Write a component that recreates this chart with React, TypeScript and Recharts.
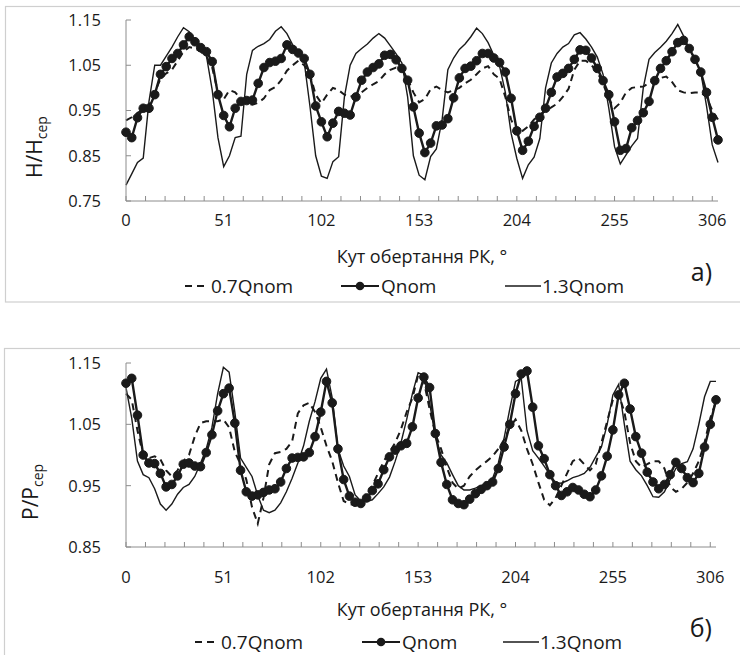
import React from 'react';
import { LineChart, Line, XAxis, YAxis } from 'recharts';

const FONT = '"Open Sans", "Noto Sans", sans-serif';
const INK = '#1a1a1a';
const AXIS = '#8c8c8c';

// rotation angle of the impeller, degrees
const angles = [
  0, 3, 6, 9, 12, 15, 18, 21, 24, 27, 30, 33, 36,
  39, 42, 45, 48, 51, 54, 57, 60, 63, 66, 69, 72, 75,
  78, 81, 84, 87, 90, 93, 96, 99, 102, 105, 108, 111, 114,
  117, 120, 123, 126, 129, 132, 135, 138, 141, 144, 147, 150, 153,
  156, 159, 162, 165, 168, 171, 174, 177, 180, 183, 186, 189, 192,
  195, 198, 201, 204, 207, 210, 213, 216, 219, 222, 225, 228, 231,
  234, 237, 240, 243, 246, 249, 252, 255, 258, 261, 264, 267, 270,
  273, 276, 279, 282, 285, 288, 291, 294, 297, 300, 303, 306, 309,
];

// H/Hcep
const headLow = [
  0.928, 0.935, 0.945, 0.952, 0.96, 0.99, 1.02, 1.032, 1.04, 1.06, 1.08, 1.09, 1.087,
  1.08, 1.07, 1.045, 0.99, 0.975, 0.995, 0.99, 0.975, 0.965, 0.963, 0.967, 0.977, 0.995,
  1.002, 1.017, 1.038, 1.05, 1.06, 1.05, 1.03, 0.985, 0.966, 0.985, 1.0, 0.995, 0.985,
  0.98, 0.985, 0.99, 1.0, 1.008, 1.015, 1.03, 1.04, 1.045, 1.04, 1.02, 0.99, 0.968,
  0.975, 0.997, 1.003, 0.995, 0.99, 0.995, 1.0, 1.01, 1.018, 1.03, 1.043, 1.048, 1.03,
  1.02, 0.98, 0.93, 0.9, 0.905, 0.915, 0.93, 0.94, 0.95, 0.957, 0.965, 0.98, 0.998,
  1.04, 1.06, 1.06, 1.05, 1.035, 1.01, 0.975, 0.955, 0.967, 0.99, 1.0, 1.002, 1.003,
  1.01, 1.018, 1.022, 1.025, 1.013, 0.995, 0.99, 0.988, 0.99, 0.99, 0.98, 0.95, 0.93,
];
const headNom = [
  0.902, 0.89, 0.934, 0.955, 0.955, 0.985, 1.03, 1.047, 1.065, 1.076, 1.095, 1.113, 1.102,
  1.089, 1.08, 1.058, 0.985, 0.939, 0.914, 0.955, 0.97, 0.972, 0.973, 1.01, 1.045, 1.056,
  1.059, 1.065, 1.095, 1.085, 1.077, 1.065, 1.03, 0.96, 0.925, 0.892, 0.922, 0.948, 0.944,
  0.94, 0.98, 1.017, 1.035, 1.045, 1.053, 1.072, 1.074, 1.062, 1.043, 1.017, 0.958, 0.9,
  0.857, 0.878, 0.916, 0.918, 0.932, 0.978, 1.022, 1.043, 1.048, 1.06, 1.076, 1.076, 1.066,
  1.056, 1.035, 0.977, 0.905, 0.862, 0.882, 0.915, 0.935, 0.955, 0.99, 1.024, 1.032, 1.043,
  1.063, 1.084, 1.083, 1.066, 1.043, 1.016, 0.985, 0.925, 0.862, 0.866, 0.912, 0.928, 0.945,
  0.97, 1.016, 1.043, 1.06, 1.08, 1.1, 1.105, 1.087, 1.063, 1.035, 0.99, 0.935, 0.885,
];
const headHigh = [
  0.785, 0.81, 0.835, 0.845, 0.97, 1.05, 1.05, 1.07, 1.09, 1.113, 1.133, 1.124, 1.104,
  1.087, 1.07, 0.995, 0.89, 0.826, 0.85, 0.89, 0.893, 1.03, 1.083, 1.092, 1.098, 1.107,
  1.125, 1.135, 1.12, 1.095, 1.077, 1.058, 0.96, 0.85, 0.805, 0.8, 0.837, 0.848, 0.98,
  1.05, 1.076, 1.087, 1.097, 1.11, 1.12, 1.11, 1.093, 1.075, 1.055, 0.98, 0.85, 0.807,
  0.797, 0.848, 0.865, 0.93, 1.04, 1.066, 1.085, 1.097, 1.113, 1.132, 1.12, 1.1, 1.072,
  1.048, 0.99, 0.9, 0.844, 0.8, 0.83, 0.847, 0.888, 1.0, 1.055, 1.076, 1.09, 1.098,
  1.117, 1.122, 1.108, 1.09, 1.068, 1.03, 0.955, 0.87, 0.832, 0.852, 0.872, 0.888, 1.0,
  1.063, 1.078, 1.09, 1.103, 1.12, 1.14, 1.115, 1.087, 1.062, 1.035, 0.96, 0.874, 0.835,
];

// P/Pcep
const powerLow = [
  1.1, 1.09, 1.04, 1.0, 0.995, 0.998, 0.993, 0.975, 0.965, 0.975, 0.99, 1.0, 1.03,
  1.052, 1.055, 1.055, 1.055, 1.058, 1.045, 1.005, 0.985, 0.96, 0.915, 0.888, 0.93, 0.985,
  1.003, 1.005, 1.01, 1.022, 1.068, 1.081, 1.085, 1.07, 1.045, 1.015, 0.99, 0.955, 0.925,
  0.92, 0.918, 0.922, 0.935, 0.95, 0.97, 0.99, 1.005, 1.02, 1.042, 1.07, 1.093, 1.13,
  1.12, 1.075, 1.035, 1.01, 0.98, 0.955, 0.945, 0.95, 0.965, 0.975, 0.983, 0.99, 0.998,
  1.01, 1.025, 1.045, 1.058, 1.04, 1.01, 0.985, 0.955, 0.927, 0.918, 0.93, 0.95, 0.97,
  0.99, 0.995, 0.985, 0.975, 0.985, 1.02, 1.055, 1.09, 1.1, 1.07, 1.02, 0.99, 0.98,
  0.985, 0.99, 0.99, 0.978, 0.948, 0.94, 0.945, 0.955, 0.97, 0.99, 1.02, 1.06, 1.087,
];
const powerNom = [
  1.117, 1.125, 1.065, 1.0, 0.987, 0.986, 0.97, 0.948, 0.952, 0.966, 0.985, 0.987, 0.982,
  0.981, 1.004, 1.033, 1.072, 1.1, 1.109, 1.052, 0.975, 0.94, 0.933, 0.935, 0.939, 0.943,
  0.945, 0.956, 0.978, 0.995, 0.996, 0.997, 1.004, 1.03, 1.07, 1.12, 1.085, 1.01, 0.96,
  0.933, 0.923, 0.921, 0.93, 0.942, 0.953, 0.976, 0.997, 1.008, 1.015, 1.019, 1.046, 1.093,
  1.127, 1.11, 1.035, 0.988, 0.952, 0.927, 0.921, 0.919, 0.928, 0.937, 0.944, 0.95, 0.956,
  0.978, 1.013, 1.05, 1.1, 1.132, 1.137, 1.078, 1.015, 0.994, 0.968, 0.95, 0.934, 0.94,
  0.947, 0.943, 0.936, 0.932, 0.943, 0.966, 0.998, 1.041, 1.098, 1.117, 1.075, 1.03, 1.003,
  0.972, 0.956, 0.945, 0.952, 0.968, 0.988, 0.978, 0.963, 0.955, 0.97, 1.013, 1.05, 1.09,
];
const powerHigh = [
  1.11, 1.06, 0.99, 0.968, 0.963, 0.945, 0.92, 0.91, 0.92, 0.936, 0.947, 0.952, 0.965,
  0.986, 1.01, 1.045, 1.1, 1.143, 1.135, 1.07, 0.995, 0.98, 0.965, 0.934, 0.91, 0.906,
  0.91, 0.922, 0.94, 0.962, 0.987, 1.015, 1.055, 1.087, 1.125, 1.14, 1.093, 1.01, 0.982,
  0.965, 0.935, 0.925, 0.924, 0.927, 0.937, 0.948, 0.964, 0.99, 1.02, 1.058, 1.1, 1.134,
  1.13, 1.085, 1.03, 1.0, 0.987, 0.968, 0.95, 0.943, 0.943, 0.946, 0.95, 0.953, 0.962,
  0.987, 1.027, 1.075, 1.12, 1.125, 1.04, 1.007, 0.995, 0.982, 0.968, 0.955, 0.954, 0.958,
  0.963, 0.966, 0.97, 0.98, 0.997, 1.013, 1.05, 1.098, 1.115, 1.05, 0.99, 0.976, 0.966,
  0.95, 0.932, 0.931, 0.94, 0.96, 0.978, 0.986, 0.989, 1.01, 1.05, 1.095, 1.12, 1.12,
];

const angleLabels = [0, 51, 102, 153, 204, 255, 306];
const angleTicks = [
  0, 10.2, 20.4, 30.6, 40.8, 51, 61.2, 71.4, 81.6, 91.8, 102, 112.2, 122.4, 132.6, 142.8, 153,
  163.2, 173.4, 183.6, 193.8, 204, 214.2, 224.4, 234.6, 244.8, 255, 265.2, 275.4, 285.6, 295.8, 306,
];
const headTicks = [0.75, 0.85, 0.95, 1.05, 1.15];
const powerTicks = [0.85, 0.95, 1.05, 1.15];
const seriesNames = ['0.7Qnom', 'Qnom', '1.3Qnom'];
const xTitle = 'Кут обертання РК, °';

const toRows = (low: number[], nom: number[], high: number[]) =>
  angles.map((angle, i) => ({ angle, low: low[i], nom: nom[i], high: high[i] }));

const headRows = toRows(headLow, headNom, headHigh);
const powerRows = toRows(powerLow, powerNom, powerHigh);

type PanelProps = {
  rows: { angle: number; low: number; nom: number; high: number }[];
  top: number;
  height: number;
  plotTop: number;
  plotRight: number;
  axisHeight: number;
  bottomGap: number;
  yTicks: number[];
  yLabel: string;
  yLabelX: number;
  yLabelStart: number;
  xTickMargin: number;
  titleY: number;
  legendY: number;
  legendX: number[];
  tag: string;
  tagY: number;
  frameTop: number;
  frameLeft: number;
  frameBottom: number;
};

function Panel(p: PanelProps) {
  const [lx0, lx1, lx2] = p.legendX;
  const legendText = { fontFamily: FONT, fontSize: 19, fill: INK };
  return (
    <div style={{ position: 'absolute', left: 0, top: p.top, width: 740, height: p.height }}>
      <LineChart
        width={740}
        height={p.height}
        data={p.rows}
        margin={{ top: p.plotTop, right: p.plotRight, left: 0, bottom: p.bottomGap }}
      >
        <XAxis
          dataKey="angle"
          type="number"
          domain={[0, 309]}
          ticks={angleTicks}
          interval={0}
          height={p.axisHeight}
          tickFormatter={(v: number) => (angleLabels.includes(v) ? String(v) : '')}
          tickSize={-5}
          tickMargin={p.xTickMargin}
          stroke={AXIS}
          tick={{ fill: INK, fontSize: 16.5, fontFamily: FONT }}
        />
        <YAxis
          type="number"
          domain={[p.yTicks[0], 1.15]}
          ticks={p.yTicks}
          interval={0}
          width={126}
          tickFormatter={(v: number) => v.toFixed(2)}
          tickSize={-5}
          tickMargin={30}
          stroke={AXIS}
          tick={{ fill: INK, fontSize: 16.5, fontFamily: FONT }}
        />
        <Line
          dataKey="low"
          name={seriesNames[0]}
          type="linear"
          stroke={INK}
          strokeWidth={2}
          strokeDasharray="7 5"
          dot={false}
          isAnimationActive={false}
        />
        <Line
          dataKey="high"
          name={seriesNames[2]}
          type="linear"
          stroke={INK}
          strokeWidth={1.4}
          dot={false}
          isAnimationActive={false}
        />
        <Line
          dataKey="nom"
          name={seriesNames[1]}
          type="linear"
          stroke={INK}
          strokeWidth={2.4}
          dot={{ r: 4.3, fill: INK, stroke: INK, strokeWidth: 1 }}
          isAnimationActive={false}
        />
      </LineChart>
      <svg
        width={740}
        height={p.height}
        style={{ position: 'absolute', left: 0, top: 0, pointerEvents: 'none' }}
      >
        <rect
          x={p.frameLeft}
          y={p.frameTop}
          width={760}
          height={p.frameBottom - p.frameTop}
          fill="none"
          stroke="#cfcfcf"
          strokeWidth={1.2}
        />
        <text
          transform={`translate(${p.yLabelX},${p.yLabelStart}) rotate(-90)`}
          fontFamily={FONT}
          fontSize={21}
          fill={INK}
          textAnchor="start"
        >
          {p.yLabel + '/' + p.yLabel}
          <tspan fontSize={14} dy={5}>cep</tspan>
        </text>
        <text x={422} y={p.titleY} textAnchor="middle" fontFamily={FONT} fontSize={18} fill={INK}>
          {xTitle}
        </text>
        <text x={712} y={p.tagY} textAnchor="end" fontFamily={FONT} fontSize={25} fill={INK}>
          {p.tag}
        </text>
        <line x1={lx0} x2={lx0 + 21} y1={p.legendY - 7} y2={p.legendY - 7} stroke={INK} strokeWidth={2} strokeDasharray="7 5" />
        <text x={lx0 + 26} y={p.legendY} {...legendText}>{seriesNames[0]}</text>
        <line x1={lx1} x2={lx1 + 38} y1={p.legendY - 7} y2={p.legendY - 7} stroke={INK} strokeWidth={2.2} />
        <circle cx={lx1 + 19} cy={p.legendY - 7} r={4.3} fill={INK} />
        <text x={lx1 + 40} y={p.legendY} {...legendText}>{seriesNames[1]}</text>
        <line x1={lx2} x2={lx2 + 36} y1={p.legendY - 7} y2={p.legendY - 7} stroke={INK} strokeWidth={1.4} />
        <text x={lx2 + 37} y={p.legendY} {...legendText}>{seriesNames[2]}</text>
      </svg>
    </div>
  );
}

export default function App() {
  return (
    <div style={{ position: 'absolute', left: 0, top: 0, width: 740, height: 655, background: '#fff', overflow: 'hidden' }}>
      <Panel
        rows={headRows}
        top={0}
        height={310}
        plotTop={20}
        plotRight={22}
        axisHeight={40}
        bottomGap={69}
        yTicks={headTicks}
        yLabel="H"
        yLabelX={42}
        yLabelStart={178}
        xTickMargin={18}
        titleY={263}
        legendY={293}
        legendX={[185, 341, 505]}
        tag="а)"
        tagY={281}
        frameTop={6.5}
        frameLeft={5.5}
        frameBottom={302}
      />
      <Panel
        rows={powerRows}
        top={320}
        height={335}
        plotTop={43}
        plotRight={24}
        axisHeight={40}
        bottomGap={68}
        yTicks={powerTicks}
        yLabel="P"
        yLabelX={38}
        yLabelStart={200}
        xTickMargin={29}
        titleY={296}
        legendY={329}
        legendX={[195, 362, 503]}
        tag="б)"
        tagY={317}
        frameTop={28.5}
        frameLeft={4.5}
        frameBottom={400}
      />
    </div>
  );
}
